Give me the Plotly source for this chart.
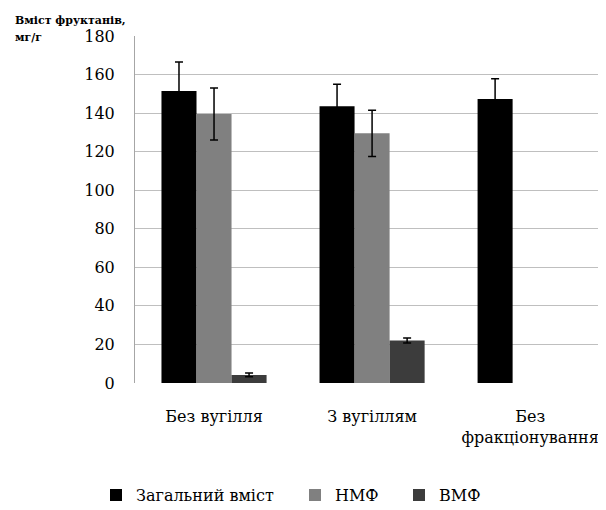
import plotly.graph_objects as go

categories = ["Без вугілля", "З вугіллям", "Без<br>фракціонування"]
total = [151.5, 143.5, 147.3]
total_err = [15.0, 11.5, 10.5]
nmf = [139.5, 129.5, None]
nmf_err = [13.5, 12.0, None]
vmf = [4.2, 22.0, None]
vmf_err = [1.0, 1.3, None]
y_ticks = [0, 20, 40, 60, 80, 100, 120, 140, 160, 180]
y_title_lines = ["Вміст фруктанів,", "мг/г"]

font_family = "DejaVu Serif"

def err(arr):
    return dict(type="data", array=arr, visible=True, color="black", thickness=1.5, width=4)

fig = go.Figure()
fig.add_trace(go.Bar(x=categories, y=total, name="Загальний вміст", legend="legend",
                     marker=dict(color="#000000", line=dict(width=0)), error_y=err(total_err)))
fig.add_trace(go.Bar(x=categories, y=nmf, name="НМФ", legend="legend2",
                     marker=dict(color="#808080", line=dict(width=0)), error_y=err(nmf_err)))
fig.add_trace(go.Bar(x=categories, y=vmf, name="ВМФ", legend="legend3",
                     marker=dict(color="#3c3c3c", line=dict(width=0)), error_y=err(vmf_err)))

PLOT_LEFT = 135
PLOT_W = 471
PLOT_H = 347
def leg(marker_x):
    return dict(orientation="h", x=(marker_x - 20 - PLOT_LEFT) / PLOT_W, xanchor="left",
                y=-0.323, yanchor="middle", font=dict(size=16), itemwidth=30,
                bgcolor="rgba(0,0,0,0)")

def title_line(text, dy):
    return dict(text="<b>" + text + "</b>", x=(5 - 127) / PLOT_W, y=1 + dy / PLOT_H,
                xref="paper", yref="paper", showarrow=False, align="left",
                xanchor="left", yanchor="middle", font=dict(size=11))

fig.update_layout(
    width=598, height=502,
    margin=dict(l=127, r=0, t=28, b=127, autoexpand=False),
    paper_bgcolor="white", plot_bgcolor="white",
    barmode="group", bargap=0.335, bargroupgap=0,
    font=dict(family=font_family, size=16, color="black"),
    showlegend=True,
    legend=leg(116), legend2=leg(315), legend3=leg(419),
    xaxis=dict(range=[-0.5, 2.48], showgrid=False, showline=False, ticks="",
               tickfont=dict(size=16), automargin=False, ticklabelstandoff=22),
    yaxis=dict(range=[0, 180], tickvals=y_ticks, showgrid=True, gridcolor="#bfbfbf",
               gridwidth=1, showline=True, linecolor="#a6a6a6", linewidth=1, mirror=True,
               ticks="", ticklen=0, tickfont=dict(size=16), zeroline=False,
               automargin=False, ticklabelstandoff=16),
    annotations=[title_line(y_title_lines[0], 15), title_line(y_title_lines[1], -2)],
)
fig.write_html("out.html")
